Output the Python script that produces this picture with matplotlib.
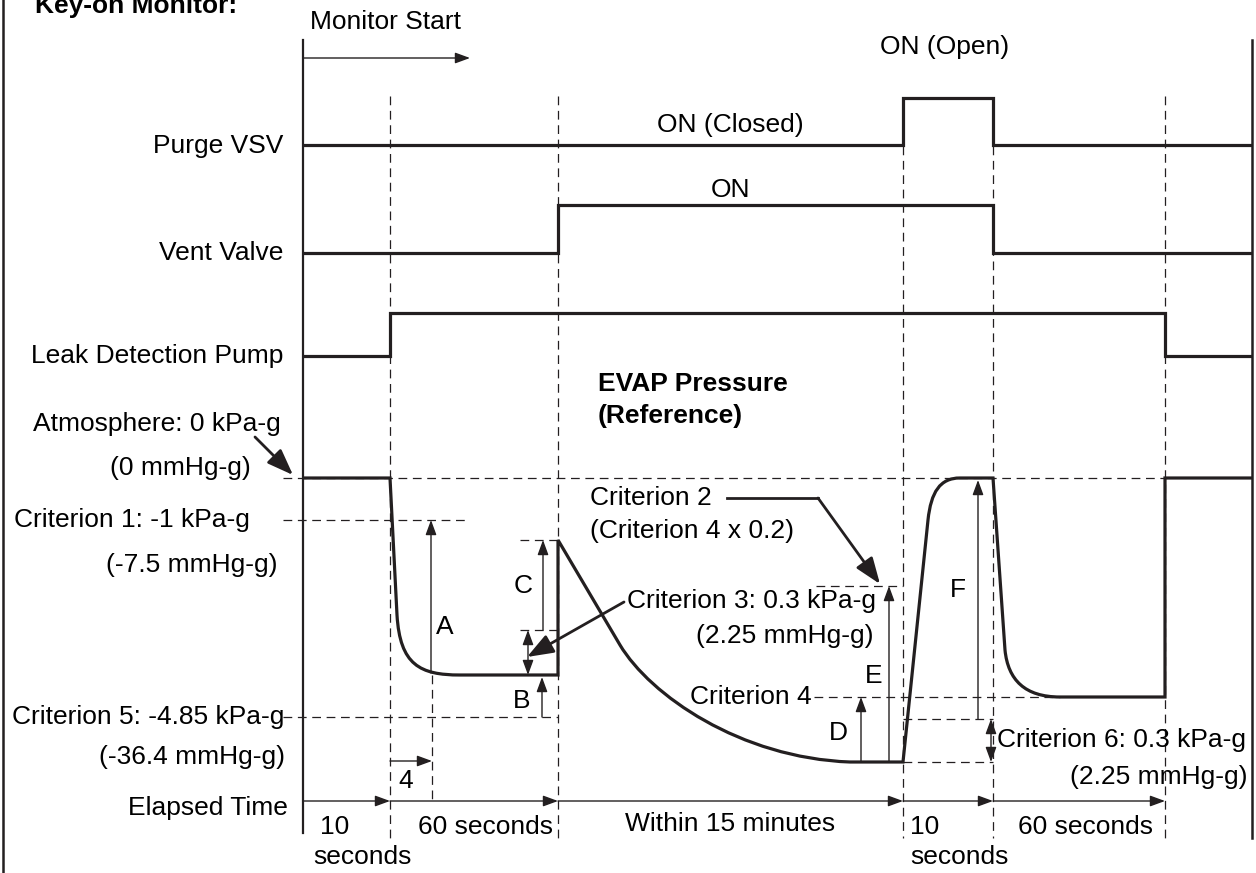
import matplotlib.pyplot as plt
from matplotlib.path import Path
from matplotlib.patches import PathPatch

plt.rcParams['font.family'] = ['Liberation Sans', 'DejaVu Sans']
FS = 19

# Momenty zdarzeń na osi czasu (w jednostkach rysunku)
t_start = 303
t_pump_on = 390
t_4s = 432
t_vent_on = 558
t_purge_open = 903
t_purge_close = 993
t_pump_off = 1165
t_end = 1252

# Sygnały dwustanowe: krawędzie i poziomy
purge_edges = [t_start, t_purge_open, t_purge_close, t_end]
purge_levels = [145, 98, 145, 145]
vent_edges = [t_start, t_vent_on, t_purge_close, t_end]
vent_levels = [253, 205, 253, 253]
pump_edges = [t_start, t_pump_on, t_pump_off, t_end]
pump_levels = [356, 313, 356, 356]

# Poziomy ciśnienia EVAP
p_atm = 478
p_crit1 = 520
p_c_top = 540
p_crit2 = 586
p_crit3 = 630
p_low1 = 675
p_crit4 = 697
p_crit5 = 717
p_crit6 = 719
p_low2 = 762

# Przebieg ciśnienia (punkty i kody ścieżki)
pressure_pts = [(t_start, p_atm), (t_pump_on, p_atm), (397, 615),
                (400, 665), (420, p_low1), (460, p_low1),
                (t_vent_on, p_low1), (t_vent_on, p_c_top), (620, 645),
                (650, 695), (740, 758), (850, p_low2),
                (t_purge_open, p_low2), (928, 520),
                (931, 492), (940, p_atm), (960, p_atm),
                (t_purge_close, p_atm), (1005, 650),
                (1008, 680), (1025, p_crit4), (1060, p_crit4),
                (t_pump_off, p_crit4), (t_pump_off, p_atm), (t_end, p_atm)]
pressure_codes = [Path.MOVETO, Path.LINETO, Path.LINETO,
                  Path.CURVE4, Path.CURVE4, Path.CURVE4,
                  Path.LINETO, Path.LINETO, Path.LINETO,
                  Path.CURVE4, Path.CURVE4, Path.CURVE4,
                  Path.LINETO, Path.LINETO,
                  Path.CURVE4, Path.CURVE4, Path.CURVE4,
                  Path.LINETO, Path.LINETO,
                  Path.CURVE4, Path.CURVE4, Path.CURVE4,
                  Path.LINETO, Path.LINETO, Path.LINETO]

elapsed_y = 801
elapsed_marks = [t_start, t_pump_on, t_vent_on, t_purge_open, t_purge_close, t_pump_off]

fig = plt.figure(figsize=(12.56, 8.73), dpi=100)
ax = fig.add_axes([0, 0, 1, 1])
ax.set_xlim(0, 1256)
ax.set_ylim(873, 0)
ax.axis('off')

thick = dict(color='#231f20', lw=2.3, solid_joinstyle='miter', solid_capstyle='butt')
dash = dict(color='#231f20', lw=0.9, linestyle=(0, (7, 4.5)))
thin = dict(color='#231f20', lw=1.0)
dim_arrow = dict(arrowstyle='-|>,head_length=0.6,head_width=0.22', mutation_scale=15,
                 color='#231f20', lw=1.0, shrinkA=0, shrinkB=0)
dim_arrow2 = dict(dim_arrow, arrowstyle='<|-|>,head_length=0.6,head_width=0.22')
big_arrow = dict(arrowstyle='-|>,head_length=0.8,head_width=0.3', mutation_scale=20,
                 color='#231f20', lw=2.0, shrinkA=0, shrinkB=0)

# Ramka i oś pionowa
ax.plot([3, 3], [0, 873], color='#231f20', lw=1.8)
ax.plot([1252, 1252], [40, 838], color='#231f20', lw=1.8)
ax.plot([t_start, t_start], [40, 833], color='#231f20', lw=1.6)
ax.text(35, 13, 'Key-on Monitor:', fontsize=FS, fontweight='bold', ha='left', va='baseline')

# Monitor Start
ax.text(310, 22, 'Monitor Start', fontsize=FS, ha='left', va='center')
ax.annotate('', xy=(470, 58), xytext=(t_start, 58), arrowprops=dim_arrow)

# Pionowe linie przerywane
for x, y0 in [(t_pump_on, 96), (t_vent_on, 96), (t_purge_open, 146),
              (t_purge_close, 146), (t_pump_off, 96)]:
    ax.plot([x, x], [y0, 838], **dash)
ax.plot([t_4s, t_4s], [p_low1, elapsed_y], **dash)

# Sygnały
ax.step(purge_edges, purge_levels, where='post', **thick)
ax.step(vent_edges, vent_levels, where='post', **thick)
ax.step(pump_edges, pump_levels, where='post', **thick)
ax.text(283, 146, 'Purge VSV', fontsize=FS, ha='right', va='center')
ax.text(283, 253, 'Vent Valve', fontsize=FS, ha='right', va='center')
ax.text(283, 356, 'Leak Detection Pump', fontsize=FS, ha='right', va='center')
ax.text(730, 125, 'ON (Closed)', fontsize=FS, ha='center', va='center')
ax.text(730, 190, 'ON', fontsize=FS, ha='center', va='center')
ax.text(945, 47, 'ON (Open)', fontsize=FS, ha='center', va='center')
ax.text(598, 384, 'EVAP Pressure', fontsize=FS, fontweight='bold', ha='left', va='center')
ax.text(598, 416, '(Reference)', fontsize=FS, fontweight='bold', ha='left', va='center')

# Poziome linie przerywane
ax.plot([283, t_pump_off], [p_atm, p_atm], **dash)
ax.plot([283, 466], [p_crit1, p_crit1], **dash)
ax.plot([283, t_vent_on], [p_crit5, p_crit5], **dash)
ax.plot([520, t_vent_on], [p_c_top, p_c_top], **dash)
ax.plot([520, t_vent_on], [p_crit3, p_crit3], **dash)
ax.plot([816, t_purge_open], [p_crit2, p_crit2], **dash)
ax.plot([814, 1060], [p_crit4, p_crit4], **dash)
ax.plot([t_purge_open, t_purge_close], [p_crit6, p_crit6], **dash)
ax.plot([t_purge_open, t_purge_close], [p_low2, p_low2], **dash)

# Ciśnienie
ax.add_patch(PathPatch(Path(pressure_pts, pressure_codes), fill=False, edgecolor='#231f20',
                       lw=2.3, joinstyle='miter', capstyle='butt'))

# Strzałki wymiarowe
ax.annotate('', xy=(t_4s - 1, p_crit1), xytext=(t_4s - 1, p_low1 - 2), arrowprops=dim_arrow)
ax.annotate('', xy=(543, p_c_top), xytext=(543, p_crit3), arrowprops=dim_arrow)
ax.annotate('', xy=(528, p_crit3), xytext=(528, p_low1), arrowprops=dim_arrow2)
ax.annotate('', xy=(542, p_low1 + 2), xytext=(542, p_crit5), arrowprops=dim_arrow)
ax.annotate('', xy=(861, p_crit4), xytext=(861, p_low2), arrowprops=dim_arrow)
ax.annotate('', xy=(889, p_crit2), xytext=(889, p_low2), arrowprops=dim_arrow)
ax.annotate('', xy=(978, p_atm + 2), xytext=(978, p_crit6), arrowprops=dim_arrow)
ax.annotate('', xy=(991, p_crit6), xytext=(991, p_low2), arrowprops=dim_arrow2)
ax.annotate('', xy=(t_4s, 761), xytext=(t_pump_on, 761), arrowprops=dim_arrow)
for letter, x, y in [('A', 445, 627), ('C', 523, 586), ('B', 522, 701), ('D', 838, 733),
                     ('E', 874, 676), ('F', 958, 590), ('4', 406, 781)]:
    ax.text(x, y, letter, fontsize=FS, ha='center', va='center')

# Opisy poziomów
ax.text(281, 424, 'Atmosphere: 0 kPa-g', fontsize=FS, ha='right', va='center')
ax.text(251, 468, '(0 mmHg-g)', fontsize=FS, ha='right', va='center')
ax.annotate('', xy=(293, 475), xytext=(255, 437), arrowprops=big_arrow)
ax.text(250, 520, 'Criterion 1: -1 kPa-g', fontsize=FS, ha='right', va='center')
ax.text(277, 565, '(-7.5 mmHg-g)', fontsize=FS, ha='right', va='center')
ax.text(284, 717, 'Criterion 5: -4.85 kPa-g', fontsize=FS, ha='right', va='center')
ax.text(285, 757, '(-36.4 mmHg-g)', fontsize=FS, ha='right', va='center')

ax.text(590, 498, 'Criterion 2', fontsize=FS, ha='left', va='center')
ax.text(590, 531, '(Criterion 4 x 0.2)', fontsize=FS, ha='left', va='center')
ax.plot([727, 818], [498, 498], color='#231f20', lw=2.0)
ax.annotate('', xy=(880, 584), xytext=(818, 498), arrowprops=big_arrow)

ax.text(627, 601, 'Criterion 3: 0.3 kPa-g', fontsize=FS, ha='left', va='center')
ax.text(873, 636, '(2.25 mmHg-g)', fontsize=FS, ha='right', va='center')
ax.annotate('', xy=(527, 657), xytext=(624, 602), arrowprops=big_arrow)

ax.text(812, 697, 'Criterion 4', fontsize=FS, ha='right', va='center')
ax.text(997, 740, 'Criterion 6: 0.3 kPa-g', fontsize=FS, ha='left', va='center')
ax.text(1247, 777, '(2.25 mmHg-g)', fontsize=FS, ha='right', va='center')

# Oś czasu
ax.text(288, 808, 'Elapsed Time', fontsize=FS, ha='right', va='center')
for a, b in zip(elapsed_marks[:-1], elapsed_marks[1:]):
    ax.annotate('', xy=(b, elapsed_y), xytext=(a, elapsed_y), arrowprops=dim_arrow)
ax.text(320, 827, '10', fontsize=FS, ha='left', va='center')
ax.text(313, 857, 'seconds', fontsize=FS, ha='left', va='center')
ax.text(486, 827, '60 seconds', fontsize=FS, ha='center', va='center')
ax.text(730, 824, 'Within 15 minutes', fontsize=FS, ha='center', va='center')
ax.text(910, 827, '10', fontsize=FS, ha='left', va='center')
ax.text(910, 857, 'seconds', fontsize=FS, ha='left', va='center')
ax.text(1085, 827, '60 seconds', fontsize=FS, ha='center', va='center')

plt.savefig('out.png', dpi=100)
